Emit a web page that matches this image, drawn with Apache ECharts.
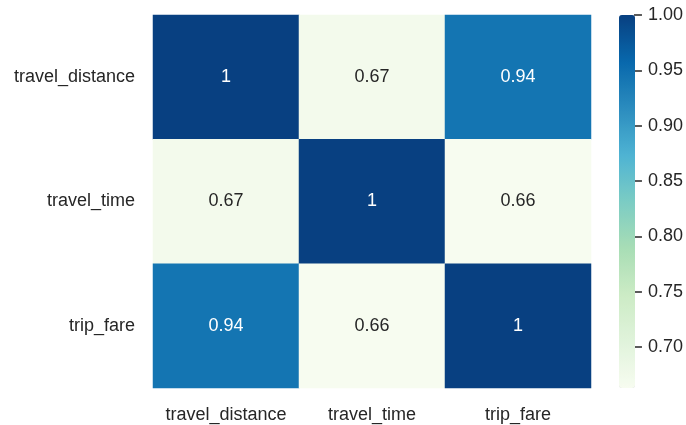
<!DOCTYPE html>
<html><head><meta charset="utf-8">
<script src="https://cdn.jsdelivr.net/npm/echarts@6/dist/echarts.min.js"></script>
<style>html,body{margin:0;padding:0;background:#fff}#c{width:686px;height:425px}</style>
</head><body><div id="c"></div>
<script>
var features = ['travel_distance', 'travel_time', 'trip_fare'];
var row0 = [1.0, 0.671, 0.943];
var row1 = [0.671, 1.0, 0.663];
var row2 = [0.943, 0.663, 1.0];
var rows = [row0, row1, row2];
var cbTicks = [0.70, 0.75, 0.80, 0.85, 0.90, 0.95, 1.00];
var gnbu = ['#f7fcf0','#e0f3db','#ccebc5','#a8ddb5','#7bccc4','#4eb3d3','#2b8cbe','#0868ac','#084081'];

var vmin = Math.min.apply(null, rows.map(function(r){return Math.min.apply(null, r);}));
var vmax = Math.max.apply(null, rows.map(function(r){return Math.max.apply(null, r);}));
var txt = '#262626';
var font = 'Liberation Sans, Arial, sans-serif';
var fs = 18;

var data = [];
rows.forEach(function(r, i){
  r.forEach(function(v, j){
    data.push({value: [j, i, v], label: {color: v > 0.85 ? '#ffffff' : txt}});
  });
});

var chart = echarts.init(document.getElementById('c'));
chart.setOption({
  backgroundColor: '#ffffff',
  animation: false,
  textStyle: {fontFamily: font},
  grid: [
    {left: 153, right: 95, top: 15, bottom: 37},
    {left: 619, width: 16, top: 15, bottom: 37}
  ],
  xAxis: [
    {type: 'category', data: features, gridIndex: 0,
     axisLine: {show: false}, axisTick: {show: false}, splitLine: {show: false},
     axisLabel: {color: txt, fontSize: fs, fontFamily: font, margin: 18, interval: 0}},
    {type: 'value', gridIndex: 1, show: false, min: 0, max: 1}
  ],
  yAxis: [
    {type: 'category', data: features, gridIndex: 0, inverse: true,
     axisLine: {show: false}, axisTick: {show: false}, splitLine: {show: false},
     axisLabel: {color: txt, fontSize: fs, fontFamily: font, margin: 18, interval: 0}},
    {type: 'value', gridIndex: 1, min: vmin, max: vmax, position: 'right',
     axisLine: {show: true, onZero: false, lineStyle: {color: 'rgba(0,0,0,0)', width: 0}}, splitLine: {show: false},
     axisTick: {show: true, customValues: cbTicks, length: 8, lineStyle: {color: txt, width: 1.5}},
     axisLabel: {show: true, customValues: cbTicks, color: txt, fontSize: fs, fontFamily: font, margin: 14,
       formatter: function(v){ return v.toFixed(2); }}}
  ],
  visualMap: {
    type: 'continuous', seriesIndex: 0, min: vmin, max: vmax,
    inRange: {color: gnbu},
    show: true, calculable: false, hoverLink: false, showLabel: false,
    text: null, padding: 0, left: 619, top: 15,
    itemWidth: 16, itemHeight: 373, orient: 'vertical'
  },
  series: [{
    type: 'heatmap', xAxisIndex: 0, yAxisIndex: 0, data: data,
    label: {show: true, fontSize: fs, fontFamily: font,
      formatter: function(p){ return String(Number(p.value[2].toFixed(2))); }},
    itemStyle: {borderWidth: 0},
    emphasis: {disabled: true}
  }]
});
</script></body></html>
